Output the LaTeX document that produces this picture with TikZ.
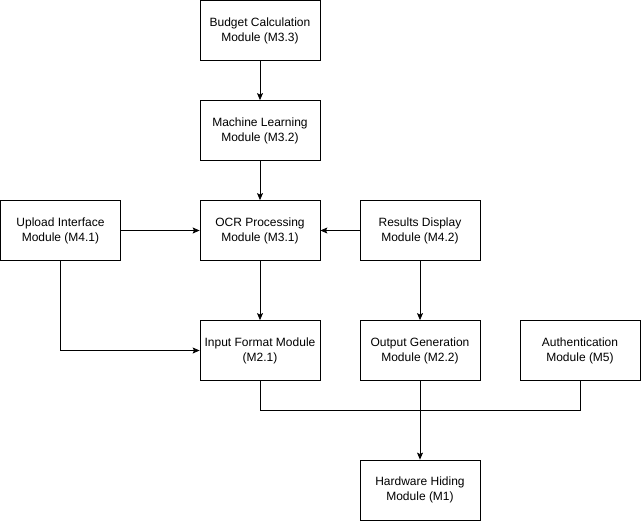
\documentclass[tikz,border=0pt]{standalone}
\usepackage{fontspec}
\setmainfont{Liberation Sans}
\usetikzlibrary{arrows.meta,positioning}
\tikzset{module/.style={draw, line width=0.8pt, minimum width=120pt, minimum height=60pt, align=center, inner sep=2pt, font=\fontsize{12}{15}\selectfont},
  link/.style={line width=0.8pt, -{Stealth[length=7pt,width=6pt,inset=1.5pt]}}}

\begin{document}
\begin{tikzpicture}[x=1pt,y=-1pt]
        \useasboundingbox (0,0) rectangle (642,521);
        \node[module] (budget) at (260,30.5) {Budget Calculation\\Module (M3.3)};
        \node[module] (ml) at (260,130.5) {Machine Learning\\Module (M3.2)};
        \node[module] (ocr) at (260,230.5) {OCR Processing\\Module (M3.1)};
        \node[module] (upload) at (60.5,230.5) {Upload Interface\\Module (M4.1)};
        \node[module] (results) at (420,230.5) {Results Display\\Module (M4.2)};
        \node[module] (input) at (260,350.5) {Input Format Module\\(M2.1)};
        \node[module] (output) at (420,350.5) {Output Generation\\Module (M2.2)};
        \node[module] (auth) at (580,350.5) {Authentication\\Module (M5)};
        \node[module] (hw) at (420,490) {Hardware Hiding\\Module (M1)};
        \coordinate (join) at (420,410.5);
        \draw[link] (budget) -- (ml);
        \draw[link] (ml) -- (ocr);
        \draw[link] (upload) -- (ocr);
        \draw[link] (results) -- (ocr);
        \draw[link] (ocr) -- (input);
        \draw[link] (upload.south) |- (input.west);
        \draw[link] (results) -- (output);
        \draw[link] (output) -- (hw);
        \draw[line width=0.8pt] (input.south) |- (join) -| (auth.south);
    \end{tikzpicture}
\end{document}
